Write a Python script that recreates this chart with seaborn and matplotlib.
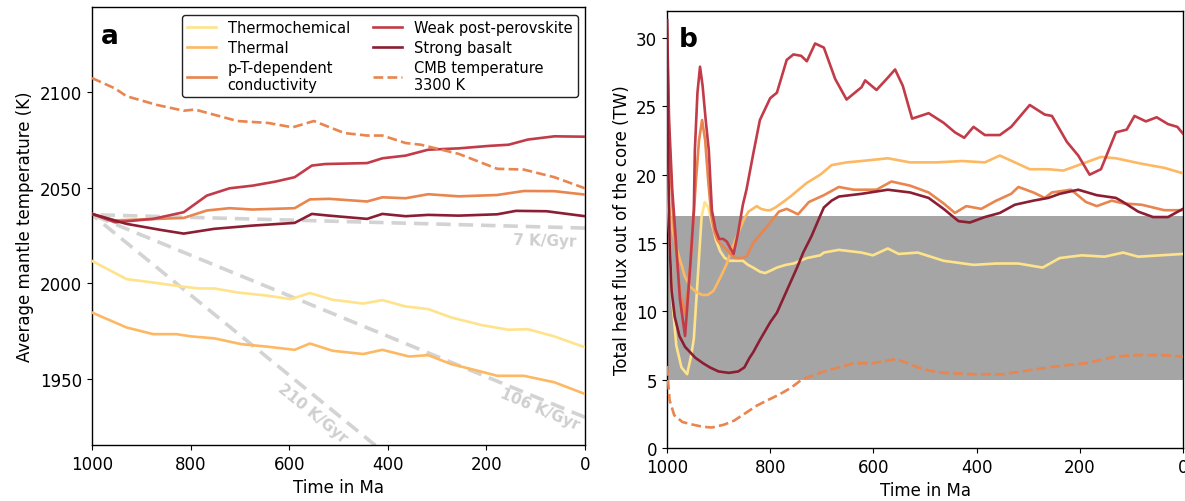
import numpy as np
import matplotlib
matplotlib.use("Agg")
import matplotlib.pyplot as plt
import seaborn as sns

# ---------------- colours / labels ----------------
labels = ["Thermochemical", "Thermal", "p-T-dependent\nconductivity",
          "Weak post-perovskite", "Strong basalt", "CMB temperature\n3300 K"]
colors = ["#fee38b", "#fdb863", "#e9854e", "#c23b48", "#8b1e33", "#e9854e"]

# ---------------- panel a: average mantle temperature (K) ----------------
ma_thermochem_a = [1000, 930, 876, 814, 783, 752, 705, 643, 597, 558, 512, 450, 411, 364, 318, 271, 209, 155, 116, 62, 0]
t_thermochem_a = [2011.8, 2002.3, 2000.5, 1998.3, 1997.4, 1997.4, 1995.3, 1993.6, 1991.8, 1995, 1991.5, 1989.5,
                  1991.3, 1988, 1986.6, 1982.2, 1978.2, 1975.8, 1976.1, 1972.3, 1966.6]

ma_thermal_a = [1000, 930, 876, 829, 798, 752, 698, 643, 589, 558, 512, 450, 411, 357, 318, 271, 209, 178, 124, 62, 0]
t_thermal_a = [1984.8, 1977, 1973.5, 1973.5, 1972.3, 1971.3, 1968.3, 1966.9, 1965.3, 1968.6, 1964.8, 1963.1,
               1965.3, 1961.8, 1962.5, 1957.8, 1953.8, 1951.7, 1951.7, 1948.3, 1942.2]

ma_pt_a = [1000, 953, 814, 767, 721, 674, 589, 558, 519, 442, 411, 364, 318, 256, 178, 124, 62, 0]
t_pt_a = [2036.4, 2033, 2034.3, 2038.2, 2039.4, 2038.7, 2039.4, 2044, 2044.3, 2042.9, 2045.1, 2044.6,
          2046.7, 2045.6, 2046.3, 2048.4, 2048.3, 2046.5]

ma_weak_a = [1000, 953, 876, 814, 767, 721, 674, 628, 589, 554, 527, 442, 411, 364, 318, 256, 194, 155, 116, 62, 0]
t_weak_a = [2036.4, 2032, 2033.8, 2037.3, 2046, 2049.8, 2051.2, 2053.3, 2055.6, 2061.7, 2062.5, 2063,
            2065.5, 2066.9, 2070, 2070.7, 2072, 2072.6, 2075.3, 2077, 2076.8]

ma_basalt_a = [1000, 930, 860, 814, 752, 674, 589, 554, 519, 442, 411, 364, 318, 256, 178, 140, 78, 0]
t_basalt_a = [2036.4, 2031.2, 2028, 2026.1, 2028.6, 2030.3, 2031.7, 2036.4, 2035.5, 2033.8, 2036.4, 2035.2,
              2035.9, 2035.5, 2036.2, 2038, 2037.8, 2035.2]

ma_cmb_a = [1000, 953, 930, 868, 814, 791, 705, 643, 593, 550, 488, 442, 411, 364, 333, 256, 178, 124, 62, 0]
t_cmb_a = [2107.5, 2102, 2098, 2093.4, 2090.4, 2091, 2085, 2084, 2081.7, 2085, 2078.7, 2077.4, 2077.4,
           2073.5, 2072.6, 2067.8, 2060, 2059.6, 2055.6, 2049.8]

# reference cooling-rate lines (K/Gyr), starting at 1000 Ma
rate_start_ma = [1000, 0]
rate_start_t = 2036
rates = [7, 106, 210]
rate_labels = ["7 K/Gyr", "106 K/Gyr", "210 K/Gyr"]

# ---------------- panel b: total heat flux out of the core (TW) ----------------
ma_thermochem_b = [1000, 996, 990, 982, 972, 961, 953, 948, 939, 933, 927, 920, 912, 905, 897, 888, 878, 865, 853,
                   843, 833, 820, 810, 798, 787, 770, 755, 729, 703, 696, 667, 623, 601, 572, 551, 514, 464, 406,
                   362, 319, 272, 239, 196, 152, 116, 87, 43, 0]
q_thermochem_b = [20, 16, 10.9, 7.5, 5.9, 5.4, 6.8, 8.0, 13.3, 16.9, 18.0, 17.6, 16.3, 15.2, 14.4, 13.9, 13.7, 13.7,
                  13.7, 13.4, 13.2, 12.9, 12.8, 13.0, 13.2, 13.4, 13.5, 13.9, 14.1, 14.3, 14.5, 14.3, 14.1, 14.6,
                  14.2, 14.3, 13.7, 13.4, 13.5, 13.5, 13.2, 13.9, 14.1, 14.0, 14.3, 14.0, 14.1, 14.2]

ma_thermal_b = [1000, 997, 994, 986, 976, 971, 966, 955, 943, 932, 921, 910, 899, 890, 884, 878, 868, 858, 850, 842,
                826, 818, 807, 800, 790, 775, 761, 745, 729, 703, 681, 652, 623, 572, 529, 478, 428, 384, 355, 320,
                297, 261, 232, 210, 188, 159, 130, 80, 36, 0]
q_thermal_b = [21, 18.2, 17.0, 15.3, 13.9, 13.3, 12.6, 11.8, 11.4, 11.2, 11.2, 11.5, 12.3, 13.0, 13.5, 14.2, 15.2,
               16.1, 16.8, 17.3, 17.7, 17.5, 17.4, 17.4, 17.6, 18.0, 18.4, 18.9, 19.4, 20.0, 20.7, 20.9, 21.0, 21.2,
               20.9, 20.9, 21.0, 20.9, 21.4, 20.8, 20.4, 20.4, 20.3, 20.6, 20.9, 21.3, 21.2, 20.8, 20.5, 20.1]

ma_pt_b = [1000, 996, 990, 984, 975, 966, 958, 950, 944, 938, 932, 926, 920, 914, 908, 902, 896, 890, 884, 877, 871,
           866, 856, 846, 833, 820, 804, 783, 768, 746, 725, 696, 667, 638, 594, 565, 529, 493, 464, 442, 420, 391,
           362, 333, 319, 290, 268, 254, 217, 188, 167, 138, 116, 80, 36, 0]
q_pt_b = [30.5, 23, 18, 15, 11.5, 9.8, 12, 16, 19.5, 22.5, 24, 22.5, 19.5, 17, 15.8, 15.2, 14.9, 14.7, 14.5, 14.2,
          14.0, 13.9, 13.9, 14.0, 15.0, 15.6, 16.3, 17.3, 17.5, 17.1, 18.0, 18.5, 19.1, 18.9, 18.9, 19.5, 19.2,
          18.7, 17.9, 17.2, 17.7, 17.5, 18.1, 18.6, 19.1, 18.7, 18.3, 18.7, 18.9, 18.0, 17.7, 18.1, 17.9, 17.8,
          17.4, 17.4]

ma_weak_b = [1000, 996, 990, 984, 975, 965, 955, 948, 946, 941, 936, 931, 925, 919, 913, 906, 899, 891, 884, 877,
             871, 862, 853, 846, 833, 820, 800, 787, 768, 755, 740, 729, 713, 696, 674, 652, 623, 616, 594, 572,
             558, 543, 525, 493, 464, 442, 424, 406, 384, 355, 333, 297, 268, 254, 225, 203, 181, 159, 130, 109, 94,
             72, 51, 29, 11, 0]
q_weak_b = [31.3, 24, 19, 15.8, 10.9, 8.2, 13.3, 17.4, 21.8, 26, 27.9, 26.5, 24, 21.8, 17.4, 16, 15.3, 15.3, 15.1,
            14.6, 14.2, 15.8, 17.8, 18.9, 21.5, 24.0, 25.6, 26, 28.4, 28.8, 28.7, 28.3, 29.6, 29.3, 27, 25.5, 26.4,
            26.9, 26.2, 27.1, 27.7, 26.5, 24.1, 24.5, 23.8, 23.1, 22.7, 23.5, 22.9, 22.9, 23.5, 25.1, 24.4, 24.3,
            22.4, 21.4, 20, 20.4, 23.1, 23.3, 24.3, 23.9, 24.2, 23.7, 23.5, 23]

ma_basalt_b = [1000, 998, 995, 991, 985, 976, 965, 955, 945, 930, 917, 900, 880, 862, 850, 840, 833, 820, 800, 787,
               774, 761, 748, 736, 720, 703, 696, 681, 667, 623, 572, 529, 493, 464, 435, 413, 384, 355, 326, 290,
               261, 239, 203, 167, 130, 116, 87, 58, 29, 0]
q_basalt_b = [31.3, 22, 15, 11.5, 9.6, 8.2, 7.4, 7.0, 6.6, 6.2, 5.9, 5.6, 5.5, 5.6, 5.9, 6.6, 7.0, 7.9, 9.2, 9.9,
              11.0, 12.1, 13.2, 14.3, 15.5, 17.0, 17.6, 18.1, 18.4, 18.6, 18.9, 18.7, 18.3, 17.5, 16.6, 16.5, 16.9,
              17.2, 17.8, 18.1, 18.3, 18.6, 18.9, 18.5, 18.3, 18.0, 17.3, 16.9, 16.9, 17.5]

ma_cmb_b = [1000, 995, 986, 970, 949, 930, 913, 890, 870, 850, 826, 805, 783, 760, 739, 718, 696, 667, 638, 601, 558,
            540, 514, 490, 464, 406, 348, 297, 239, 188, 130, 87, 43, 0]
q_cmb_b = [6.0, 3.5, 2.4, 1.9, 1.7, 1.55, 1.5, 1.7, 2.0, 2.5, 3.1, 3.5, 3.9, 4.4, 5.0, 5.3, 5.6, 5.9, 6.2, 6.2, 6.5,
           6.3, 5.9, 5.65, 5.5, 5.4, 5.4, 5.7, 6.0, 6.2, 6.7, 6.8, 6.8, 6.7]

# observational range of core heat flow (TW)
band_low, band_high = 5, 17

# ---------------- figure ----------------
plt.rcParams["font.family"] = ["DejaVu Sans"]
plt.rcParams["axes.linewidth"] = 1.0
fig = plt.figure(figsize=(11.85, 5.02), dpi=100)
ax_a = fig.add_axes([92 / 1185, 1 - 446 / 502, (585 - 92) / 1185, (446 - 8.3) / 502])
ax_b = fig.add_axes([667 / 1185, 1 - 449 / 502, (1183 - 667) / 1185, (449 - 11.7) / 502])

LW = 1.9
gray = "#d3d3d3"

# --- panel a ---
for r in rates:
    ends = [rate_start_t, rate_start_t - r]
    sns.lineplot(x=rate_start_ma, y=ends, ax=ax_a, color=gray, lw=2.6, linestyle="--",
                 dashes=False, legend=False, zorder=1)
    ax_a.lines[-1].set_dashes([4, 2.2])

series_a = [(ma_thermochem_a, t_thermochem_a), (ma_thermal_a, t_thermal_a), (ma_pt_a, t_pt_a),
            (ma_weak_a, t_weak_a), (ma_basalt_a, t_basalt_a), (ma_cmb_a, t_cmb_a)]
handles = []
for i, (xs, ys) in enumerate(series_a):
    sns.lineplot(x=xs, y=ys, ax=ax_a, color=colors[i], lw=LW, legend=False, zorder=3, sort=False)
    ln = ax_a.lines[-1]
    if i == 5:
        ln.set_linestyle("--")
    handles.append(ln)

txt_kw = dict(color="#cfcfcf", fontsize=11, fontweight="bold", ha="center", va="center")
ax_a.text(82, 2022.8, rate_labels[0], rotation=-1.5, **txt_kw)
ax_a.text(92, 1934.3, rate_labels[1], rotation=-23, **txt_kw)
ax_a.text(552, 1932.2, rate_labels[2], rotation=-39, **txt_kw)

ax_a.set_xlim(1000, 0)
ax_a.set_ylim(1915.5, 2144.5)
ax_a.set_xticks([1000, 800, 600, 400, 200, 0])
ax_a.set_yticks([1950, 2000, 2050, 2100])
ax_a.set_xlabel("Time in Ma", fontsize=12)
ax_a.set_ylabel("Average mantle temperature (K)", fontsize=12)
ax_a.tick_params(labelsize=12)
ax_a.text(0.018, 0.965, "a", transform=ax_a.transAxes, fontsize=19, fontweight="bold", va="top", ha="left")
ax_a.legend(handles, labels, loc="upper right", ncol=2, fontsize=10.5, framealpha=1,
            edgecolor="#222222", handlelength=2.0, columnspacing=1.6, labelspacing=0.35,
            borderpad=0.35)

# --- panel b ---
ax_b.axhspan(band_low, band_high, color="#a5a5a5", zorder=0, lw=0)
series_b = [(ma_thermochem_b, q_thermochem_b), (ma_thermal_b, q_thermal_b), (ma_pt_b, q_pt_b),
            (ma_weak_b, q_weak_b), (ma_basalt_b, q_basalt_b), (ma_cmb_b, q_cmb_b)]
for i, (xs, ys) in enumerate(series_b):
    sns.lineplot(x=xs, y=ys, ax=ax_b, color=colors[i], lw=LW, legend=False, zorder=3, sort=False)
    if i == 5:
        ax_b.lines[-1].set_linestyle("--")

ax_b.set_xlim(1000, 0)
ax_b.set_ylim(0, 32)
ax_b.set_xticks([1000, 800, 600, 400, 200, 0])
ax_b.set_yticks([0, 5, 10, 15, 20, 25, 30])
ax_b.set_xlabel("Time in Ma", fontsize=12)
ax_b.set_ylabel("Total heat flux out of the core (TW)", fontsize=12)
ax_b.tick_params(labelsize=12)
ax_b.text(0.022, 0.965, "b", transform=ax_b.transAxes, fontsize=19, fontweight="bold", va="top", ha="left")

fig.savefig("out.png", dpi=100)
